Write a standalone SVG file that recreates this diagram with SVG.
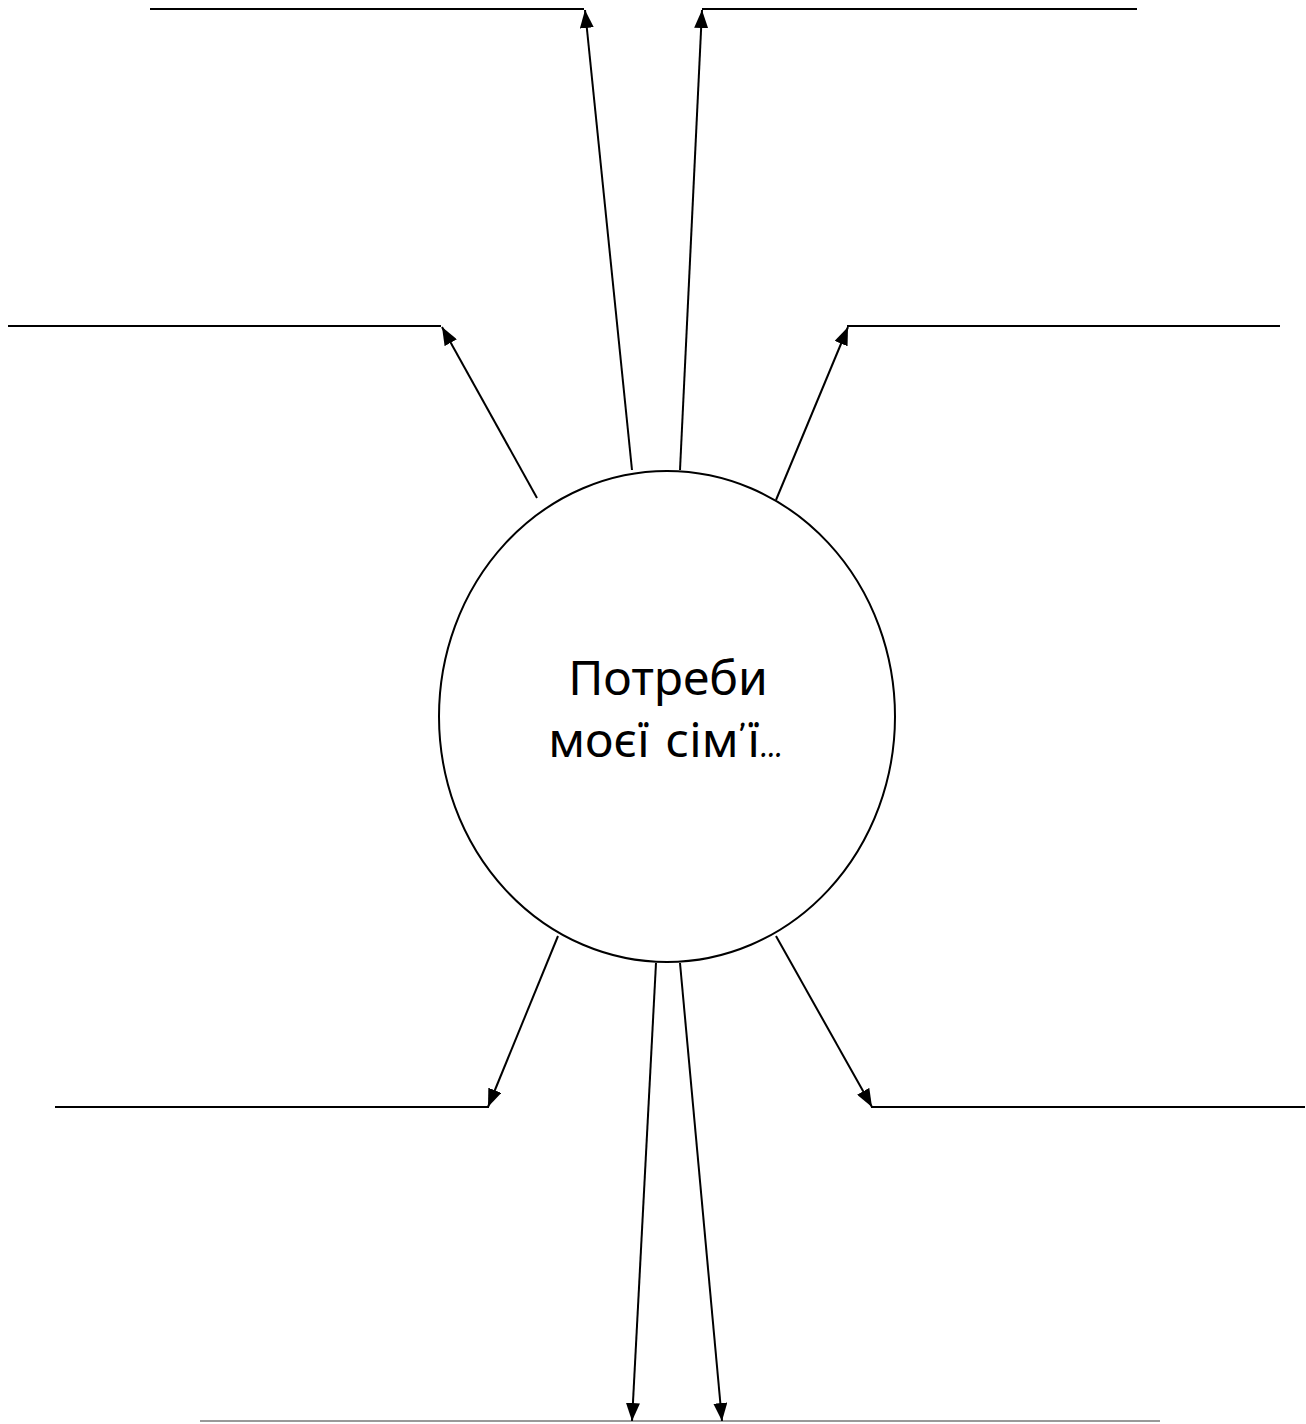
<svg xmlns="http://www.w3.org/2000/svg" width="1306" height="1424" viewBox="0 0 1306 1424">
<style>
.ln{stroke:#000;stroke-width:2;fill:none}
.ar{stroke:#000;stroke-width:2;fill:none;marker-end:url(#ah)}
.t{font-family:"Comic Neue","Noto Sans","DejaVu Sans",sans-serif;font-size:48px;fill:#000;text-anchor:middle}
</style>
<defs>
<marker id="ah" viewBox="0 0 18 14" refX="18" refY="7" markerWidth="18" markerHeight="14" markerUnits="userSpaceOnUse" orient="auto">
<path d="M0,0 L18,7 L0,14 Z" fill="#000"/>
</marker>
</defs>
<rect width="1306" height="1424" fill="#fff"/>
<g id="lines">
<line class="ln" x1="150" y1="9" x2="584" y2="9"/>
<line class="ln" x1="702" y1="9" x2="1137" y2="9"/>
<line class="ln" x1="8" y1="326" x2="441" y2="326"/>
<line class="ln" x1="847" y1="326" x2="1280" y2="326"/>
<line class="ln" x1="55" y1="1107" x2="489" y2="1107"/>
<line class="ln" x1="871" y1="1107" x2="1305" y2="1107"/>
<line x1="200" y1="1421" x2="1160" y2="1421" stroke="#999" stroke-width="2"/>
</g>
<g id="connectors">
<line class="ar" x1="632" y1="470" x2="585" y2="10"/>
<line class="ar" x1="680" y1="470" x2="702" y2="10"/>
<line class="ar" x1="537" y1="498" x2="442" y2="327"/>
<line class="ar" x1="776" y1="500" x2="848" y2="327"/>
<line class="ar" x1="558" y1="936" x2="488" y2="1107"/>
<line class="ar" x1="776" y1="936" x2="872" y2="1107"/>
<line class="ar" x1="656" y1="963" x2="632" y2="1421"/>
<line class="ar" x1="680" y1="963" x2="722" y2="1421"/>
</g>
<g id="center">
<ellipse cx="667" cy="716.5" rx="228" ry="245.5" fill="none" stroke="#000" stroke-width="2"/>
<text class="t" x="668" y="695">Потреби</text>
<text class="t" x="665" y="757">моєї сім’ї...</text>
</g>
</svg>
